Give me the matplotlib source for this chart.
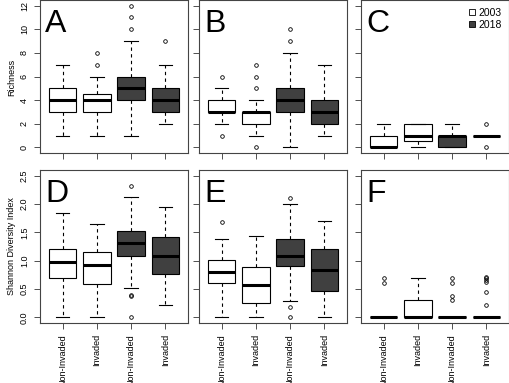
import matplotlib
matplotlib.use('Agg')
import matplotlib.pyplot as plt
from matplotlib.patches import Patch

plt.rcParams['font.family'] = ['Liberation Sans', 'DejaVu Sans']

# groups (same order in every panel)
groups = ['Non-Invaded', 'Invaded', 'Non-Invaded', 'Invaded']
years = ['2003', '2003', '2018', '2018']
fills = {'2003': 'white', '2018': '#404040'}

# each box: (whisker low, q1, median, q3, whisker high, [outliers])
rich_A = [(1, 3, 4, 5, 7, []),
          (1, 3, 4, 4.5, 6, [7, 8]),
          (1, 4, 5, 6, 9, [10, 11, 12]),
          (2, 3, 4, 5, 7, [9])]
rich_B = [(2, 3, 3, 4, 5, [6, 1]),
          (1, 2, 3, 3, 4, [5, 6, 7, 0]),
          (0, 3, 4, 5, 8, [9, 10]),
          (1, 2, 3, 4, 7, [])]
rich_C = [(0, 0, 0, 1, 2, []),
          (0, 0.5, 1, 2, 2, []),
          (0, 0, 1, 1, 2, []),
          (1, 1, 1, 1, 1, [2, 0])]
shan_D = [(0, 0.70, 0.98, 1.20, 1.84, []),
          (0, 0.58, 0.92, 1.16, 1.64, []),
          (0.51, 1.09, 1.31, 1.52, 2.12, [2.31, 0.40, 0.37, 0]),
          (0.22, 0.77, 1.09, 1.42, 1.95, [])]
shan_E = [(0, 0.60, 0.80, 1.02, 1.39, [1.69]),
          (0, 0.26, 0.57, 0.88, 1.43, []),
          (0.28, 0.91, 1.09, 1.39, 2.00, [2.10, 0.19, 0]),
          (0, 0.46, 0.84, 1.21, 1.70, [])]
shan_F = [(0, 0, 0, 0, 0, [0.70, 0.60]),
          (0, 0, 0, 0.31, 0.70, []),
          (0, 0, 0, 0, 0, [0.70, 0.60, 0.38, 0.31]),
          (0, 0, 0, 0, 0, [0.71, 0.69, 0.66, 0.62, 0.45, 0.21])]

rich_ticks = [0, 2, 4, 6, 8, 10, 12]
shan_ticks = [0.0, 0.5, 1.0, 1.5, 2.0, 2.5]

fig = plt.figure(figsize=(5.09, 3.83), dpi=100)
W, H = 509, 383
lefts = [40, 199, 361]
tops = [0, 170]
pw, ph = 148, 153

panels = [(rich_A, 'A'), (rich_B, 'B'), (rich_C, 'C'),
          (shan_D, 'D'), (shan_E, 'E'), (shan_F, 'F')]

for i, (data, letter) in enumerate(panels):
    r, c = divmod(i, 3)
    ax = fig.add_axes([lefts[c] / W, 1 - (tops[r] + ph) / H, pw / W, ph / H])
    stats = [dict(whislo=b[0], q1=b[1], med=b[2], q3=b[3], whishi=b[4], fliers=b[5])
             for b in data]
    bp = ax.bxp(stats, positions=[1, 2, 3, 4], widths=0.8, capwidths=0.4,
                patch_artist=True,
                boxprops=dict(edgecolor='black', linewidth=0.8),
                whiskerprops=dict(color='black', linewidth=0.8, linestyle=(0, (3, 3))),
                capprops=dict(color='black', linewidth=0.8),
                medianprops=dict(color='black', linewidth=2.2, solid_capstyle='butt'),
                flierprops=dict(marker='o', markersize=2.6, markerfacecolor='none',
                                markeredgecolor='black', markeredgewidth=0.6))
    for patch, y in zip(bp['boxes'], years):
        patch.set_facecolor(fills[y])
    ax.set_xlim(0.34, 4.66)
    if r == 0:
        ax.set_ylim(-0.48, 12.48)
        ax.set_yticks(rich_ticks)
        ax.set_yticklabels([str(t) for t in rich_ticks])
    else:
        ax.set_ylim(-0.1, 2.6)
        ax.set_yticks(shan_ticks)
        ax.set_yticklabels(['%.1f' % t for t in shan_ticks])
    ax.set_xticks([1, 2, 3, 4])
    if r == 1:
        ax.set_xticklabels(groups, rotation=90)
    else:
        ax.set_xticklabels([])
    if c != 0:
        ax.tick_params(axis='y', labelleft=False)
    for lab in ax.get_yticklabels():
        lab.set_rotation(90)
        lab.set_va('center')
    ax.tick_params(direction='out', length=4.5, width=0.6, labelsize=6.5,
                   pad=3.5, color='#333333')
    for s in ax.spines.values():
        s.set_color('#444444')
        s.set_linewidth(0.8)
    ax.text(0.034, 0.79, letter, transform=ax.transAxes, fontsize=23,
            ha='left', va='baseline')
    if letter == 'C':
        handles = [Patch(facecolor='white', edgecolor='black', linewidth=0.6, label='2003'),
                   Patch(facecolor='#404040', edgecolor='black', linewidth=0.6, label='2018')]
        ax.legend(handles=handles, loc='upper right', frameon=False, fontsize=7.5,
                  handlelength=0.55, handleheight=0.5, handletextpad=0.35,
                  labelspacing=0.15, borderaxespad=0, borderpad=0,
                  bbox_to_anchor=(1 - 7 / pw, 1 - 8 / ph))

fig.text(12 / W, 1 - 77 / H, 'Richness', rotation=90, ha='center', va='center', fontsize=6.5)
fig.text(12 / W, 1 - 246.5 / H, 'Shannon Diversity Index', rotation=90,
         ha='center', va='center', fontsize=6.5)

fig.savefig('out.png', dpi=100)
